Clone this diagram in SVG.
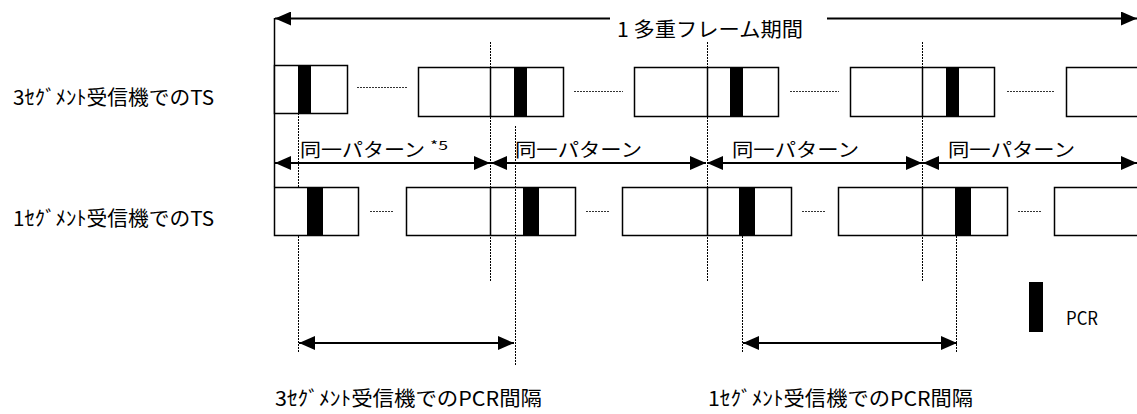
<svg xmlns="http://www.w3.org/2000/svg" width="1137" height="414" viewBox="0 0 1137 414">
<style>
.box{fill:#fff;stroke:#000;stroke-width:1.5}
.pcr{fill:#000}
.dot{stroke:#000;stroke-width:1;stroke-dasharray:2 1;fill:none}
.dash{stroke:#333;stroke-width:1;stroke-dasharray:2 1;fill:none}
.arr{stroke:#000;stroke-width:2;fill:none}
.solid{stroke:#000;stroke-width:1.5;fill:none}
text{font-family:"Noto Sans CJK JP","Noto Sans",sans-serif;fill:#000}
.lbl{font-size:20px}
.pat{font-size:19px}
</style>
<defs>
<marker id="ah" viewBox="0 0 16 14" refX="16" refY="7" markerWidth="16" markerHeight="14" markerUnits="userSpaceOnUse" orient="auto-start-reverse">
<path d="M0,0 L16,7 L0,14 z" fill="#000"/>
</marker>
</defs>

<g id="connectors-under">
<line class="dot" x1="298.5" y1="113" x2="298.5" y2="353"/>
<line class="dot" x1="490.5" y1="42" x2="490.5" y2="282"/>
<line class="dot" x1="707.5" y1="42" x2="707.5" y2="282"/>
<line class="dot" x1="922.5" y1="42" x2="922.5" y2="282"/>
<line class="dot" x1="742.5" y1="236" x2="742.5" y2="353"/>
<line class="dot" x1="956.5" y1="236" x2="956.5" y2="353"/>
<line class="solid" x1="274.5" y1="18" x2="274.5" y2="187"/>
</g>

<g id="row1">
<g id="r1b1"><rect class="box" x="274.5" y="65.5" width="73" height="48"/><rect class="pcr" x="298" y="65.5" width="13" height="48"/></g>
<g id="r1b2"><rect class="box" x="418.5" y="67.5" width="145" height="49"/><line class="solid" x1="490.5" y1="67.5" x2="490.5" y2="116.5"/><rect class="pcr" x="514" y="67.5" width="13" height="49"/></g>
<g id="r1b3"><rect class="box" x="634.5" y="67.5" width="144" height="49"/><line class="solid" x1="707.5" y1="67.5" x2="707.5" y2="116.5"/><rect class="pcr" x="730" y="67.5" width="13" height="49"/></g>
<g id="r1b4"><rect class="box" x="850.5" y="67.5" width="144" height="49"/><line class="solid" x1="922.5" y1="67.5" x2="922.5" y2="116.5"/><rect class="pcr" x="946" y="67.5" width="13" height="49"/></g>
<g id="r1b5"><rect class="box" x="1066.5" y="67.5" width="90" height="49"/></g>
</g>

<g id="row2">
<g id="r2b1"><rect class="box" x="274.5" y="187.5" width="84" height="48"/><rect class="pcr" x="307" y="187.5" width="16" height="48"/></g>
<g id="r2b2"><rect class="box" x="406.5" y="187.5" width="169" height="48"/><line class="solid" x1="490.5" y1="187.5" x2="490.5" y2="235.5"/><rect class="pcr" x="523" y="187.5" width="16" height="48"/></g>
<g id="r2b3"><rect class="box" x="622.5" y="187.5" width="169" height="48"/><line class="solid" x1="707.5" y1="187.5" x2="707.5" y2="235.5"/><rect class="pcr" x="739" y="187.5" width="16" height="48"/></g>
<g id="r2b4"><rect class="box" x="838.5" y="187.5" width="169" height="48"/><line class="solid" x1="922.5" y1="187.5" x2="922.5" y2="235.5"/><rect class="pcr" x="955" y="187.5" width="16" height="48"/></g>
<g id="r2b5"><rect class="box" x="1054.5" y="187.5" width="100" height="48"/></g>
</g>

<g id="connectors">
<line class="dot" x1="515.5" y1="126" x2="515.5" y2="365"/>
<line class="dash" x1="357" y1="87.5" x2="407" y2="87.5"/>
<line class="dash" x1="574" y1="91.5" x2="623" y2="91.5"/>
<line class="dash" x1="790" y1="91.5" x2="839" y2="91.5"/>
<line class="dash" x1="1007" y1="91.5" x2="1055" y2="91.5"/>
<line class="dash" x1="370" y1="211.5" x2="393" y2="211.5"/>
<line class="dash" x1="586" y1="211.5" x2="610" y2="211.5"/>
<line class="dash" x1="802" y1="211.5" x2="826" y2="211.5"/>
<line class="dash" x1="1018" y1="211.5" x2="1042" y2="211.5"/>
<line class="arr" x1="610" y1="18.5" x2="275" y2="18.5" marker-end="url(#ah)"/>
<line class="arr" x1="827" y1="18.5" x2="1137" y2="18.5" marker-end="url(#ah)"/>
<line class="arr" x1="275" y1="163" x2="490" y2="163" marker-start="url(#ah)" marker-end="url(#ah)"/>
<line class="arr" x1="491" y1="163" x2="706" y2="163" marker-start="url(#ah)" marker-end="url(#ah)"/>
<line class="arr" x1="707" y1="163" x2="922" y2="163" marker-start="url(#ah)" marker-end="url(#ah)"/>
<line class="arr" x1="923" y1="163" x2="1137" y2="163" marker-start="url(#ah)" marker-end="url(#ah)"/>
<line class="arr" x1="299" y1="343" x2="514" y2="343" marker-start="url(#ah)" marker-end="url(#ah)"/>
<line class="arr" x1="743" y1="343" x2="957" y2="343" marker-start="url(#ah)" marker-end="url(#ah)"/>
</g>

<g id="labels">
<text class="lbl" x="617" y="37" textLength="186" lengthAdjust="spacingAndGlyphs">1 多重フレーム期間</text>
<text class="lbl" x="13" y="105" textLength="201" lengthAdjust="spacingAndGlyphs">3ｾｸﾞﾒﾝﾄ受信機でのTS</text>
<text class="lbl" x="13" y="226" textLength="201" lengthAdjust="spacingAndGlyphs">1ｾｸﾞﾒﾝﾄ受信機でのTS</text>
<text class="pat"><tspan x="300" y="157" textLength="125" lengthAdjust="spacingAndGlyphs">同一パターン</tspan><tspan x="430" y="150" font-size="12" textLength="18" lengthAdjust="spacingAndGlyphs">*5</tspan></text>
<text class="pat" x="515" y="157" textLength="127" lengthAdjust="spacingAndGlyphs">同一パターン</text>
<text class="pat" x="732" y="157" textLength="127" lengthAdjust="spacingAndGlyphs">同一パターン</text>
<text class="pat" x="948" y="157" textLength="127" lengthAdjust="spacingAndGlyphs">同一パターン</text>
<text class="lbl" x="275" y="406" textLength="267" lengthAdjust="spacingAndGlyphs">3ｾｸﾞﾒﾝﾄ受信機でのPCR間隔</text>
<text class="lbl" x="708" y="406" textLength="265" lengthAdjust="spacingAndGlyphs">1ｾｸﾞﾒﾝﾄ受信機でのPCR間隔</text>
</g>

<g id="legend">
<rect class="pcr" x="1029" y="282" width="14" height="50"/>
<text x="1066" y="325" font-size="18" textLength="32" lengthAdjust="spacingAndGlyphs">PCR</text>
</g>
</svg>
